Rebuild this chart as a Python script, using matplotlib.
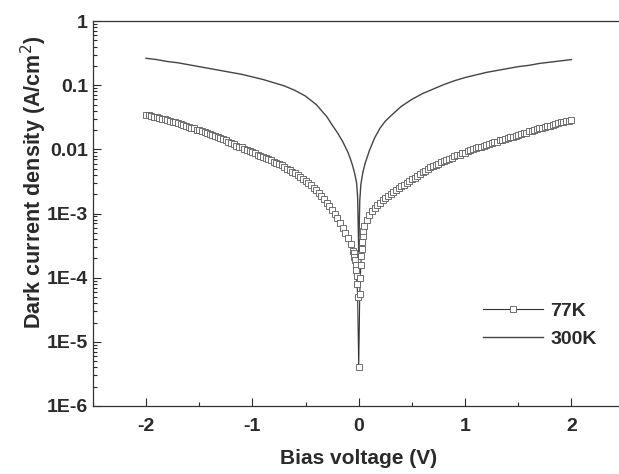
import matplotlib
matplotlib.use('Agg')
import matplotlib.pyplot as plt
import numpy as np
from matplotlib.ticker import FixedLocator, LogLocator, NullFormatter

plt.rcParams['font.family'] = ['Liberation Sans', 'DejaVu Sans']
plt.rcParams['axes.unicode_minus'] = False

# 77K data: bias (V) and log10 of current density (A/cm^2)
v77_left = [-2.000, -1.975, -1.950, -1.925, -1.900, -1.875, -1.850, -1.825, -1.800, -1.775,
            -1.750, -1.725, -1.700, -1.675, -1.650, -1.625, -1.600, -1.575, -1.550, -1.525,
            -1.500, -1.475, -1.450, -1.425, -1.400, -1.375, -1.350, -1.325, -1.300, -1.275,
            -1.250, -1.225, -1.200, -1.175, -1.150, -1.125, -1.100, -1.075, -1.050, -1.025,
            -1.000, -0.975, -0.950, -0.925, -0.900, -0.875, -0.850, -0.825, -0.800, -0.775,
            -0.750, -0.725, -0.700, -0.675, -0.650, -0.625, -0.600, -0.575, -0.550, -0.525,
            -0.500, -0.475, -0.450, -0.425, -0.400, -0.375, -0.350, -0.325, -0.300, -0.275,
            -0.250, -0.225, -0.200, -0.175, -0.150, -0.125, -0.100, -0.075, -0.050, -0.045,
            -0.040, -0.035, -0.030, -0.025, -0.020, -0.015, -0.010, 0.000]
lg77_left = [-1.46, -1.47, -1.48, -1.49, -1.50, -1.51, -1.52, -1.53, -1.54, -1.56,
             -1.57, -1.58, -1.59, -1.61, -1.62, -1.64, -1.65, -1.66, -1.67, -1.69,
             -1.70, -1.72, -1.73, -1.75, -1.76, -1.78, -1.79, -1.81, -1.82, -1.84,
             -1.86, -1.88, -1.90, -1.92, -1.94, -1.96, -1.97, -1.99, -2.01, -2.03,
             -2.04, -2.06, -2.08, -2.10, -2.12, -2.14, -2.15, -2.17, -2.19, -2.21,
             -2.23, -2.25, -2.27, -2.30, -2.32, -2.35, -2.37, -2.40, -2.43, -2.46,
             -2.49, -2.52, -2.56, -2.60, -2.64, -2.68, -2.73, -2.78, -2.83, -2.88,
             -2.94, -3.00, -3.07, -3.14, -3.22, -3.30, -3.38, -3.47, -3.58, -3.62,
             -3.68, -3.73, -3.80, -3.88, -3.98, -4.10, -4.30, -5.40]
v77_right = [0.010, 0.015, 0.020, 0.025, 0.030, 0.035, 0.040, 0.045, 0.050, 0.075,
             0.100, 0.125, 0.150, 0.175, 0.200, 0.225, 0.250, 0.275, 0.300, 0.325,
             0.350, 0.375, 0.400, 0.425, 0.450, 0.475, 0.500, 0.525, 0.550, 0.575,
             0.600, 0.625, 0.650, 0.675, 0.700, 0.725, 0.750, 0.775, 0.800, 0.825,
             0.850, 0.875, 0.900, 0.925, 0.950, 0.975, 1.000, 1.025, 1.050, 1.075,
             1.100, 1.125, 1.150, 1.175, 1.200, 1.225, 1.250, 1.275, 1.300, 1.325,
             1.350, 1.375, 1.400, 1.425, 1.450, 1.475, 1.500, 1.525, 1.550, 1.575,
             1.600, 1.625, 1.650, 1.675, 1.700, 1.725, 1.750, 1.775, 1.800, 1.825,
             1.850, 1.875, 1.900, 1.925, 1.950, 1.975, 2.000]
lg77_right = [-4.25, -4.00, -3.80, -3.66, -3.55, -3.44, -3.35, -3.27, -3.20, -3.10,
              -3.02, -2.96, -2.91, -2.87, -2.83, -2.79, -2.76, -2.72, -2.69, -2.66,
              -2.63, -2.60, -2.57, -2.55, -2.52, -2.49, -2.46, -2.44, -2.41, -2.38,
              -2.36, -2.33, -2.31, -2.28, -2.26, -2.24, -2.22, -2.20, -2.18, -2.16,
              -2.15, -2.13, -2.11, -2.09, -2.08, -2.06, -2.05, -2.03, -2.01, -2.00,
              -1.98, -1.97, -1.96, -1.94, -1.93, -1.91, -1.90, -1.89, -1.88, -1.86,
              -1.85, -1.84, -1.83, -1.81, -1.80, -1.79, -1.78, -1.76, -1.75, -1.74,
              -1.72, -1.71, -1.70, -1.68, -1.67, -1.66, -1.65, -1.64, -1.63, -1.62,
              -1.61, -1.59, -1.58, -1.57, -1.56, -1.55, -1.54]

# 300K data
v300 = [-2.0, -1.9, -1.8, -1.7, -1.6, -1.5, -1.4, -1.3, -1.2, -1.1,
        -1.0, -0.9, -0.8, -0.7, -0.6, -0.5, -0.4, -0.3, -0.25, -0.2,
        -0.15, -0.1, -0.08, -0.06, -0.04, -0.02, -0.01, 0.0,
        0.01, 0.02, 0.04, 0.06, 0.08, 0.1, 0.15, 0.2, 0.25, 0.3,
        0.4, 0.5, 0.6, 0.7, 0.8, 0.9, 1.0, 1.1, 1.2, 1.3,
        1.4, 1.5, 1.6, 1.7, 1.8, 1.9, 2.0]
lg300 = [-0.58, -0.60, -0.63, -0.65, -0.68, -0.71, -0.74, -0.77, -0.80, -0.83,
         -0.87, -0.91, -0.96, -1.01, -1.08, -1.17, -1.30, -1.49, -1.62, -1.74,
         -1.88, -2.05, -2.14, -2.24, -2.36, -2.52, -2.75, -3.60,
         -2.80, -2.55, -2.35, -2.22, -2.12, -2.02, -1.82, -1.67, -1.56, -1.48,
         -1.33, -1.22, -1.13, -1.06, -0.99, -0.93, -0.88, -0.84, -0.80, -0.77,
         -0.74, -0.71, -0.69, -0.66, -0.64, -0.62, -0.60]

ytick_vals = [1e-6, 1e-5, 1e-4, 1e-3, 0.01, 0.1, 1]
ytick_labels = ['1E-6', '1E-5', '1E-4', '1E-3', '0.01', '0.1', '1']

v77 = np.array(v77_left + v77_right)
j77 = 10 ** np.array(lg77_left + lg77_right)
j300 = 10 ** np.array(lg300)

fig = plt.figure(figsize=(6.19, 4.74), dpi=100)
ax = fig.add_axes([0.150, 0.1435, 0.859, 0.812])

ax.plot(v77, j77, '-', color='#333333', lw=0.8, marker='s', ms=5,
        mfc='white', mec='#5a5a5a', mew=0.6, label='77K')
ax.plot(v300, j300, '-', color='#444444', lw=1.0, label='300K')

ax.set_yscale('log')
ax.set_xlim(-2.5, 2.5)
ax.set_ylim(1e-6, 1)
ax.set_xticks([-2, -1, 0, 1, 2])
ax.xaxis.set_minor_locator(FixedLocator([-2.5, -1.5, -0.5, 0.5, 1.5, 2.5]))
ax.set_yticks(ytick_vals)
ax.set_yticklabels(ytick_labels)
ax.yaxis.set_minor_locator(LogLocator(base=10, subs=np.arange(2, 10), numticks=20))
ax.yaxis.set_minor_formatter(NullFormatter())

ax.tick_params(which='both', direction='in', top=False, right=False,
               labelsize=14, colors='#2a2a2a', width=0.8)
ax.tick_params(which='major', length=6)
ax.tick_params(which='minor', length=3)
ax.tick_params(axis='x', which='major', pad=9)
for lab in ax.get_xticklabels() + ax.get_yticklabels():
    lab.set_fontweight('bold')
for s in ax.spines.values():
    s.set_color('#333333')
    s.set_linewidth(0.9)

ax.set_xlabel('Bias voltage (V)', fontsize=15, fontweight='bold', color='#2a2a2a',
              labelpad=10)
ax.set_ylabel('Dark current density (A/cm$^2$)', fontsize=15.5, fontweight='bold',
              color='#2a2a2a')
ax.yaxis.set_label_coords(-0.083, 0.58)

ax.legend(loc='upper left', bbox_to_anchor=(483 / 619, 1 - 302 / 474),
          bbox_transform=fig.transFigure, frameon=False, handlelength=3.1,
          handletextpad=0.35, labelspacing=0.55, borderpad=0, borderaxespad=0,
          numpoints=1, labelcolor='#2a2a2a', prop={'weight': 'bold', 'size': 14})

fig.savefig('out.png', dpi=100)
